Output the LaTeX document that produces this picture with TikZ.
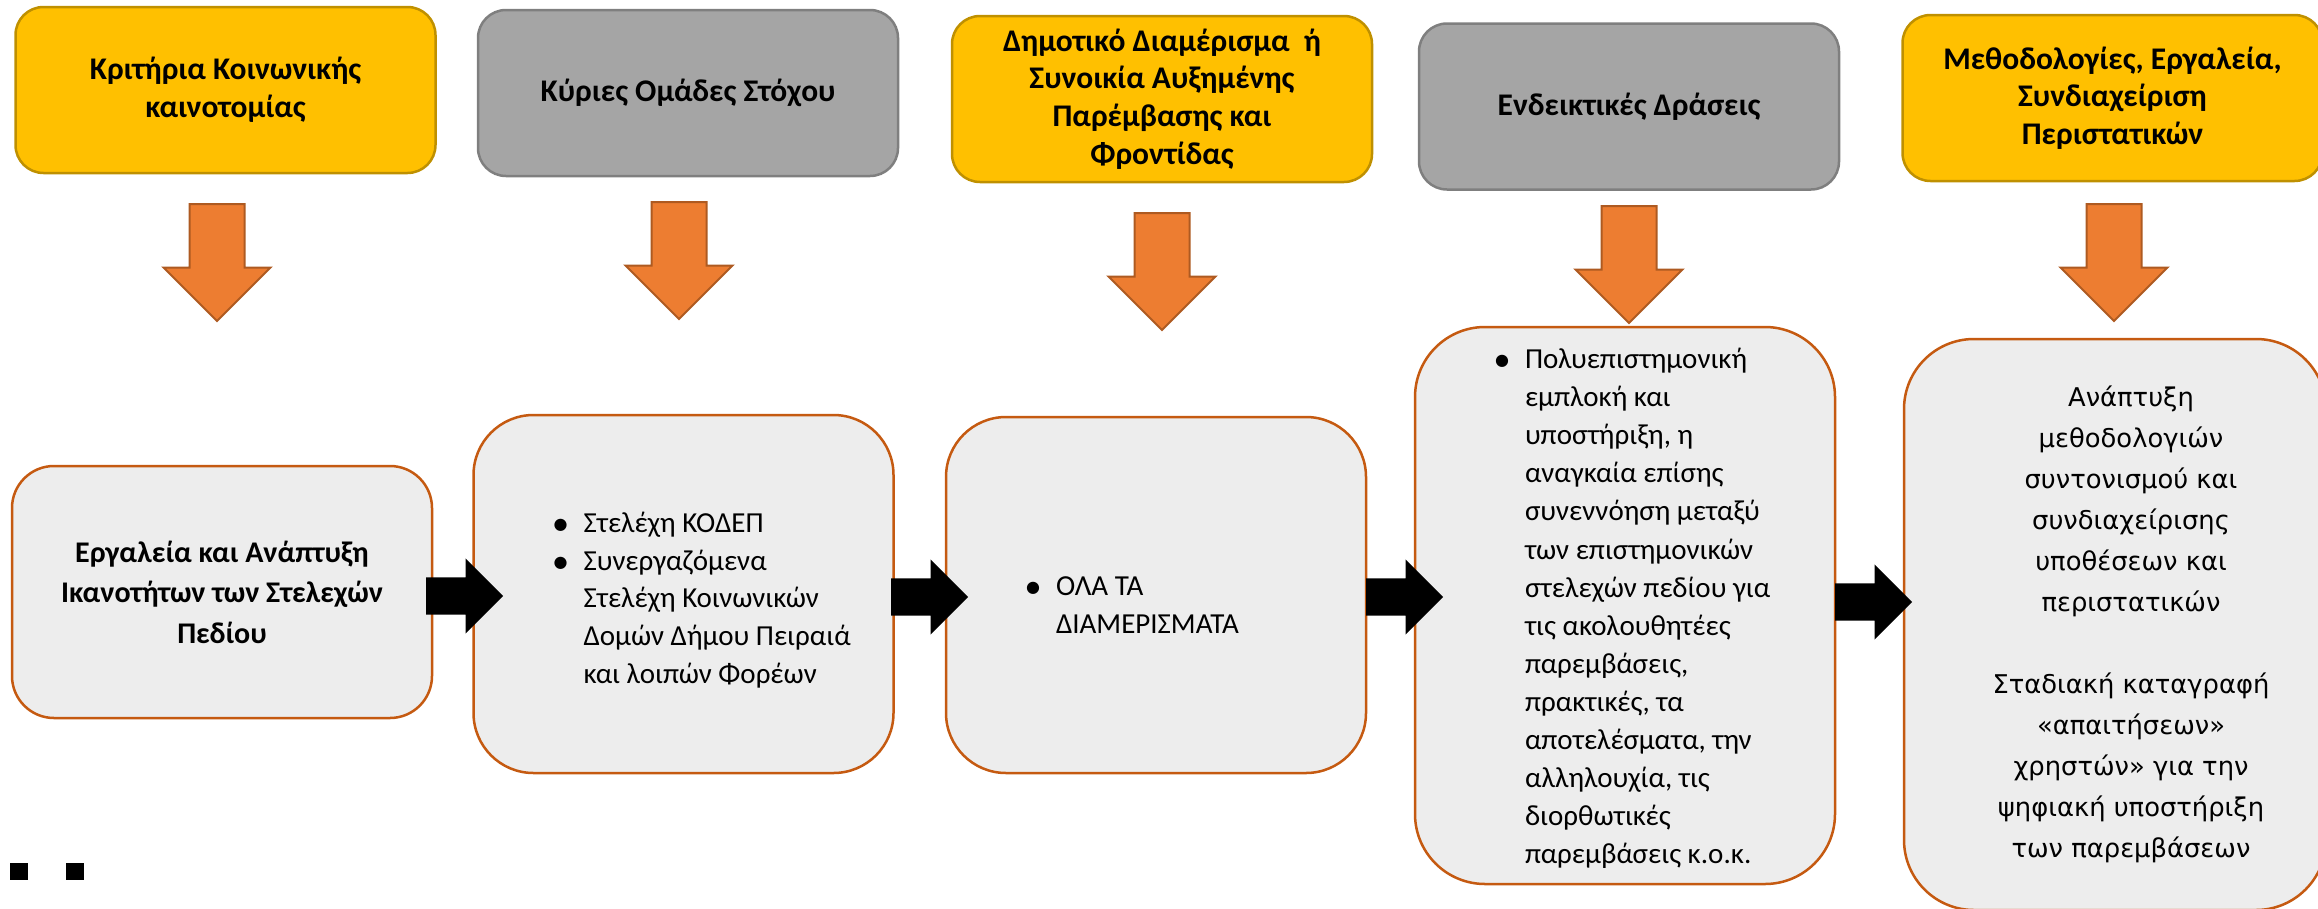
\documentclass[tikz,border=0pt]{standalone}
\usepackage{fontspec}
\setmainfont{Carlito}
\newfontfamily\widesans{DejaVu Sans}
\usepackage{xcolor}
\usetikzlibrary{shapes.arrows}
\definecolor{gold-fill}{HTML}{FFC000}
\definecolor{gold-line}{HTML}{BF9000}
\definecolor{gray-fill}{HTML}{A5A5A5}
\definecolor{gray-line}{HTML}{7F7F7F}
\definecolor{panel-fill}{HTML}{EDEDED}
\definecolor{panel-line}{HTML}{C55A11}
\definecolor{arrow-fill}{HTML}{ED7D31}
\definecolor{arrow-line}{HTML}{AE5A21}
\newcommand{\dotline}{\hspace*{40pt}\makebox[30pt][l]{\raisebox{3pt}{\widesans\fontsize{16}{0}\selectfont ●}}}
\newcommand{\hangline}{\hspace*{70pt}}
\tikzset{
    head-box/.style = {rectangle, rounded corners=28pt, line width=2.5pt, minimum width=420pt, minimum height=166pt, inner sep=0pt, align=center, font=\fontsize{31.5}{37.7}\selectfont\bfseries},
    gold-box/.style = {head-box, draw=gold-line, fill=gold-fill},
    gray-box/.style = {head-box, draw=gray-line, fill=gray-fill},
    panel/.style = {rectangle, draw=panel-line, fill=panel-fill, line width=2.5pt, minimum width=420pt, inner sep=0pt, font=\fontsize{29}{37.8}\selectfont},
    down-arrow/.style = {single arrow, draw=arrow-line, fill=arrow-fill, line width=2pt, minimum height=117pt, single arrow head extend=26pt, inner xsep=0pt, inner ysep=26.5pt, anchor=tail, rotate=-90},
    right-arrow/.style = {single arrow, fill=black, minimum height=77pt, single arrow head extend=19pt, inner xsep=0pt, inner ysep=18.5pt, anchor=tail},
}
\begin{document}
\begin{tikzpicture}[x=1pt, y=-1pt]
\useasboundingbox (0,0) rectangle (2318,908);
\clip (0,0) rectangle (2318,908);

\node [gold-box] (criteria) at (225.5,90) {Κριτήρια Κοινωνικής\\καινοτομίας};
\node [gray-box] (groups) at (688,93) {Κύριες Ομάδες Στόχου};
\node [gold-box] (district) at (1162,99) {Δημοτικό Διαμέρισμα\ \ ή\\Συνοικία Αυξημένης\\Παρέμβασης και\\Φροντίδας};
\node [gray-box] (actions) at (1629,106.5) {Ενδεικτικές Δράσεις};
\node [gold-box] (methods) at (2112.5,98) {Μεθοδολογίες, Εργαλεία,\\Συνδιαχείριση\\Περιστατικών};

\node [down-arrow] (criteria-arrow) at (217,203) {};
\node [down-arrow] (groups-arrow) at (679,201) {};
\node [down-arrow] (district-arrow) at (1162,212) {};
\node [down-arrow] (actions-arrow) at (1629,205) {};
\node [down-arrow] (methods-arrow) at (2114,203) {};

\node [panel, rounded corners=42pt, minimum height=252pt, align=center, font=\fontsize{30}{40.6}\selectfont\bfseries] (tools) at (222,592) {Εργαλεία και Ανάπτυξη\\Ικανοτήτων των Στελεχών\\Πεδίου};
\node [panel, rounded corners=60pt, minimum height=358pt] (staff) at (683.5,594) {\begin{minipage}{340pt}
\vspace*{12pt}
\dotline Στελέχη ΚΟΔΕΠ\\
\dotline Συνεργαζόμενα\\
\hangline Στελέχη Κοινωνικών\\
\hangline Δομών Δήμου Πειραιά\\
\hangline και λοιπών Φορέων
\end{minipage}};
\node [panel, rounded corners=60pt, minimum height=356pt] (areas) at (1156,595) {\begin{minipage}{340pt}
\vspace*{20pt}
\dotline ΟΛΑ ΤΑ\\
\hangline ΔΙΑΜΕΡΙΣΜΑΤΑ
\end{minipage}};
\node [panel, rounded corners=70pt, minimum height=557pt, font=\fontsize{29}{38.1}\selectfont] (teamwork) at (1625,605.5) {\begin{minipage}{340pt}
\vspace*{6pt}
\dotline Πολυεπιστημονική\\
\hangline εμπλοκή και\\
\hangline υποστήριξη, η\\
\hangline αναγκαία επίσης\\
\hangline συνεννόηση μεταξύ\\
\hangline των επιστημονικών\\
\hangline στελεχών πεδίου για\\
\hangline τις ακολουθητέες\\
\hangline παρεμβάσεις,\\
\hangline πρακτικές, τα\\
\hangline αποτελέσματα, την\\
\hangline αλληλουχία, τις\\
\hangline διορθωτικές\\
\hangline παρεμβάσεις κ.ο.κ.
\end{minipage}};
\node [panel, rounded corners=70pt, minimum width=422pt, minimum height=571pt, font=\widesans\fontsize{25.8}{41}\selectfont] (coordination) at (2115,624.5) {\hspace*{32pt}\begin{minipage}{380pt}\centering
Ανάπτυξη\\
μεθοδολογιών\\
συντονισμού και\\
συνδιαχείρισης\\
υποθέσεων και\\
περιστατικών\\[41pt]
Σταδιακή καταγραφή\\
«απαιτήσεων»\\
χρηστών» για την\\
ψηφιακή υποστήριξη\\
των παρεμβάσεων
\end{minipage}};

\node [right-arrow] (tools-arrow) at (426,596) {};
\node [right-arrow] (staff-arrow) at (891,597) {};
\node [right-arrow] (areas-arrow) at (1366,597) {};
\node [right-arrow] (teamwork-arrow) at (1835,602) {};

\fill (10,863) rectangle (28,880);
\fill (66,863) rectangle (84,880);
\end{tikzpicture}
\end{document}
